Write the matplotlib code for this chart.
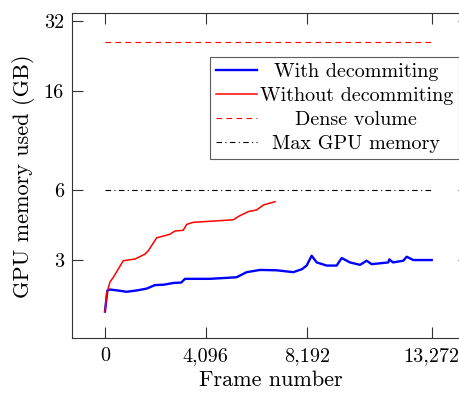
import numpy as np
import matplotlib
matplotlib.use("Agg")
from matplotlib import pyplot as plt
from matplotlib.ticker import FixedLocator, FixedFormatter, NullLocator

plt.rcParams['font.family'] = ['cmr10', 'DejaVu Serif']
plt.rcParams['axes.formatter.use_mathtext'] = True
plt.rcParams['axes.unicode_minus'] = False

# data
red_frames = [0, 70, 200, 340, 545, 745, 1220, 1625, 1760, 2100, 2630, 2845,
              3180, 3315, 3590, 5215, 5420, 5825, 6165, 6440, 6910]
red_mem = [1.80, 2.15, 2.41, 2.53, 2.75, 2.98, 3.03, 3.18, 3.29, 3.74, 3.87, 4.0,
           4.03, 4.27, 4.36, 4.47, 4.62, 4.85, 4.93, 5.18, 5.35]

blue_frames = [0, 60, 100, 200, 500, 880, 1300, 1690, 2030, 2400, 2775, 3100,
               3250, 4265, 5100, 5350, 5755, 6300, 6975, 7650, 8000, 8192,
               8395, 8600, 9005, 9410, 9615, 9950, 10360, 10630, 10830,
               11510, 11550, 11700, 12120, 12255, 12525, 13272]
blue_mem = [1.80, 2.05, 2.22, 2.24, 2.22, 2.19, 2.22, 2.26, 2.34, 2.35, 2.39,
            2.40, 2.49, 2.49, 2.52, 2.53, 2.66, 2.72, 2.71, 2.66, 2.74, 2.84,
            3.13, 2.93, 2.84, 2.84, 3.06, 2.93, 2.86, 2.98, 2.88,
            2.93, 3.02, 2.93, 2.98, 3.10, 3.00, 3.00]

dense_volume = 26.0
max_gpu = 6.0
last_frame = 13272

xtick_vals = [0, 4096, 8192, 13272]
xtick_labels = ['0', '4,096', '8,192', '13,272']
ytick_vals = [3, 6, 16, 32]
ytick_labels = ['3', '6', '16', '32']

fig = plt.figure(figsize=(4.59, 3.93), dpi=100)
ax = fig.add_axes([0.1575, 0.139, 0.865, 0.827])

ax.plot(blue_frames, blue_mem, color='blue', lw=1.7, label='With decommiting')
ax.plot(red_frames, red_mem, color='red', lw=1.1, label='Without decommiting')
ax.plot([0, last_frame], [dense_volume, dense_volume], color='red', lw=0.8,
        ls=(0, (5, 4)), label='Dense volume')
ax.plot([0, last_frame], [max_gpu, max_gpu], color='black', lw=0.8,
        ls=(0, (5, 3, 1, 3)), label='Max GPU memory')

ax.set_yscale('log')
ax.set_xlim(-1327.2, 14800)
ax.set_ylim(1.38, 34.6)

ax.xaxis.set_major_locator(FixedLocator(xtick_vals))
ax.xaxis.set_major_formatter(FixedFormatter(xtick_labels))
ax.yaxis.set_major_locator(FixedLocator(ytick_vals))
ax.yaxis.set_major_formatter(FixedFormatter(ytick_labels))
ax.yaxis.set_minor_locator(NullLocator())
ax.xaxis.set_minor_locator(NullLocator())

ax.tick_params(axis='both', which='major', direction='in', length=8, width=0.8,
               top=True, right=True, labelsize=14.5, pad=6, color='#333333')
for s in ax.spines.values():
    s.set_linewidth(0.8)
    s.set_color('#333333')

ax.set_xlabel('Frame number', fontsize=16, labelpad=4)
ax.set_ylabel('GPU memory used (GB)', fontsize=16, labelpad=6)

leg = ax.legend(loc='upper left', bbox_to_anchor=(0.3475, 0.8665), fontsize=14.5,
                frameon=True, fancybox=False, edgecolor='#333333',
                handlelength=2.0, handletextpad=0.15, borderpad=0.3,
                labelspacing=0.3, borderaxespad=0)
leg.get_frame().set_linewidth(0.8)

# centre the legend texts like pgfplots does
fig.canvas.draw()
r = fig.canvas.get_renderer()
widths = [t.get_window_extent(r).width for t in leg.get_texts()]
wmax = max(widths)
for t, w in zip(leg.get_texts(), widths):
    t.set_x((wmax - w) / 2)

fig.savefig('out.png', dpi=100)
